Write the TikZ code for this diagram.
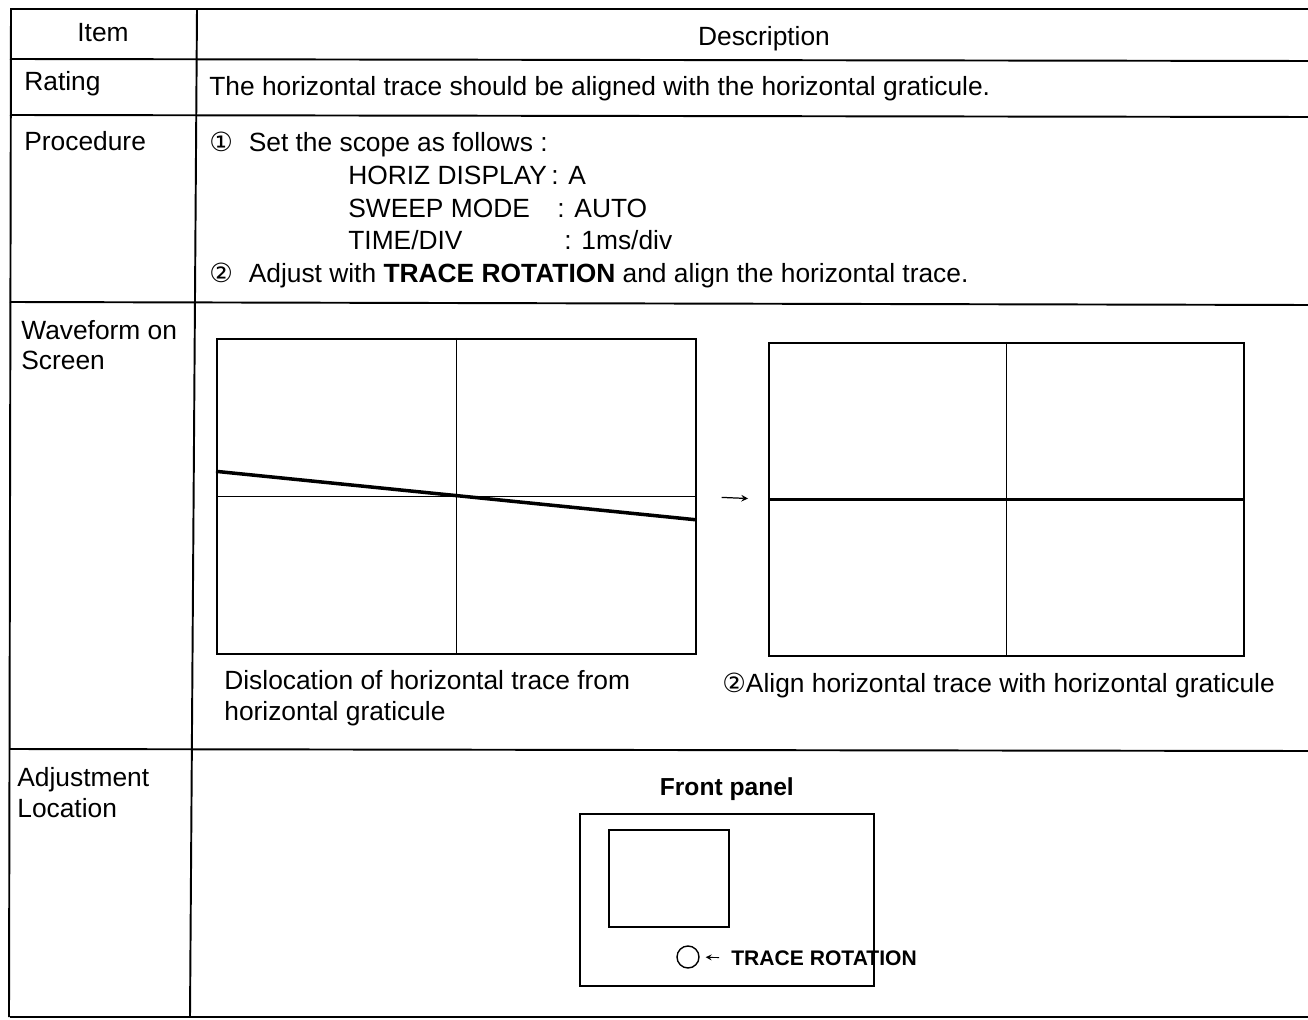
\documentclass[tikz,border=0pt]{standalone}
\usepackage{fontspec}
\setmainfont{Liberation Sans}
\newfontfamily\symfont{DejaVu Sans}
\usetikzlibrary{arrows, positioning}
\tikzset{rule/.style = {
  line width = 1.1pt
  }}
\tikzset{cell/.style = {
  % Text:
  anchor = base west,
  inner sep = 0pt,
  font = \fontsize{15}{18}\selectfont
  }}
\tikzset{twolines/.style = {
  % Text, base is the last line:
  cell,
  align = left,
  font = \fontsize{15}{17.6}\selectfont
  }}
\tikzset{screen/.style = {
  % Rectangle:
  draw, line width = 1pt,
  anchor = north west,
  inner sep = 0pt
  }}
\tikzset{graticule/.style = {
  line width = 0.8pt
  }}
\tikzset{trace/.style = {
  line width = 2pt
  }}
\tikzset{arrow/.style = {
  ->,
  >=stealth,
  line width = 0.7pt
  }}

\begin{document}
\begin{tikzpicture}[x=0.02cm, y=-0.02cm]
  \useasboundingbox (0,0) rectangle (1308,1020);
  %
  % Table rules
  %
  \draw [rule] (10,9) -- (1308,9);
  \draw [rule] (10,59) -- (1308,61);
  \draw [rule] (10,115) -- (1308,117);
  \draw [rule] (10,302) -- (1308,305);
  \draw [rule] (10,749) -- (1308,751);
  \draw [rule] (10,1017) -- (1308,1017);
  \draw [rule] (11,9) -- (9,1017);
  \draw [rule] (197,9) -- (190,1017);

  %
  % Header and text cells
  %
  \node (item) [cell, anchor=base] at (103,42) {Item};
  \node (descr) [cell, anchor=base] at (764,46) {Description};
  \node (rating) [cell] at (24,91) {Rating};
  \node (ratingtext) [cell] at (209,96) {The horizontal trace should be aligned with the horizontal graticule.};
  \node (procedure) [cell] at (24,151) {Procedure};
  \node (stepone) [cell] at (209,152) {{\symfont ①}\hspace{0.6em}Set the scope as follows :};
  \node (horiz) [cell] at (348,185) {HORIZ DISPLAY};
  \node (horizval) [cell] at (551,185) {: A};
  \node (sweep) [cell] at (348,218) {SWEEP MODE};
  \node (sweepval) [cell] at (557,218) {: AUTO};
  \node (timediv) [cell] at (348,250) {TIME/DIV};
  \node (timedivval) [cell] at (564,250) {: 1ms/div};
  \node (steptwo) [cell] at (209,283) {{\symfont ②}\hspace{0.6em}Adjust with \textbf{TRACE ROTATION} and align the horizontal trace.};
  \node (waveform) [twolines] at (21,370) {Waveform on\\Screen};
  \node (adjust) [twolines] at (17,817) {Adjustment\\Location};

  %
  % Waveforms on screen
  %
  \node (before) [screen, minimum width=9.58cm, minimum height=6.3cm] at (216,338) {};
  \draw [graticule] (before.north) -- (before.south);
  \draw [graticule] (before.west) -- (before.east);
  \draw [trace] ([yshift=0.5cm]before.west) -- ([yshift=-0.47cm]before.east);

  \node (after) [screen, minimum width=9.5cm, minimum height=6.26cm] at (768,342) {};
  \draw [graticule] (after.north) -- (after.south);
  \draw [trace] (after.west) -- (after.east);

  \draw [arrow, shorten <= 0.5cm, shorten >= 0.4cm] (before.east) -- (after.west);

  \node (beforecap) [twolines] at (224,720) {Dislocation of horizontal trace from\\horizontal graticule};
  \node (aftercap) [cell] at (722,692) {{\symfont ②}Align horizontal trace with horizontal graticule};

  %
  % Adjustment location
  %
  \node (panel) [screen, minimum width=5.88cm, minimum height=3.44cm] at (579,813) {};
  \node (paneltitle) [inner sep=0pt, font=\fontsize{14}{16}\selectfont\bfseries, above=0.24cm of panel] {Front panel};
  \node (crt) [screen, minimum width=2.4cm, minimum height=1.94cm] at (608,829) {};
  \node (knob) [draw, circle, line width=0.8pt, minimum size=0.44cm, inner sep=0pt] at (688,957) {};
  \node (rotlabel) [inner sep=0pt, anchor=west, font=\fontsize{12}{14}\selectfont\bfseries] at (731,958) {TRACE ROTATION};
  \draw [arrow, line width=0.5pt, shorten <= 0.24cm, shorten >= 0.12cm] (rotlabel.west) -- (knob.east);
\end{tikzpicture}
\end{document}
